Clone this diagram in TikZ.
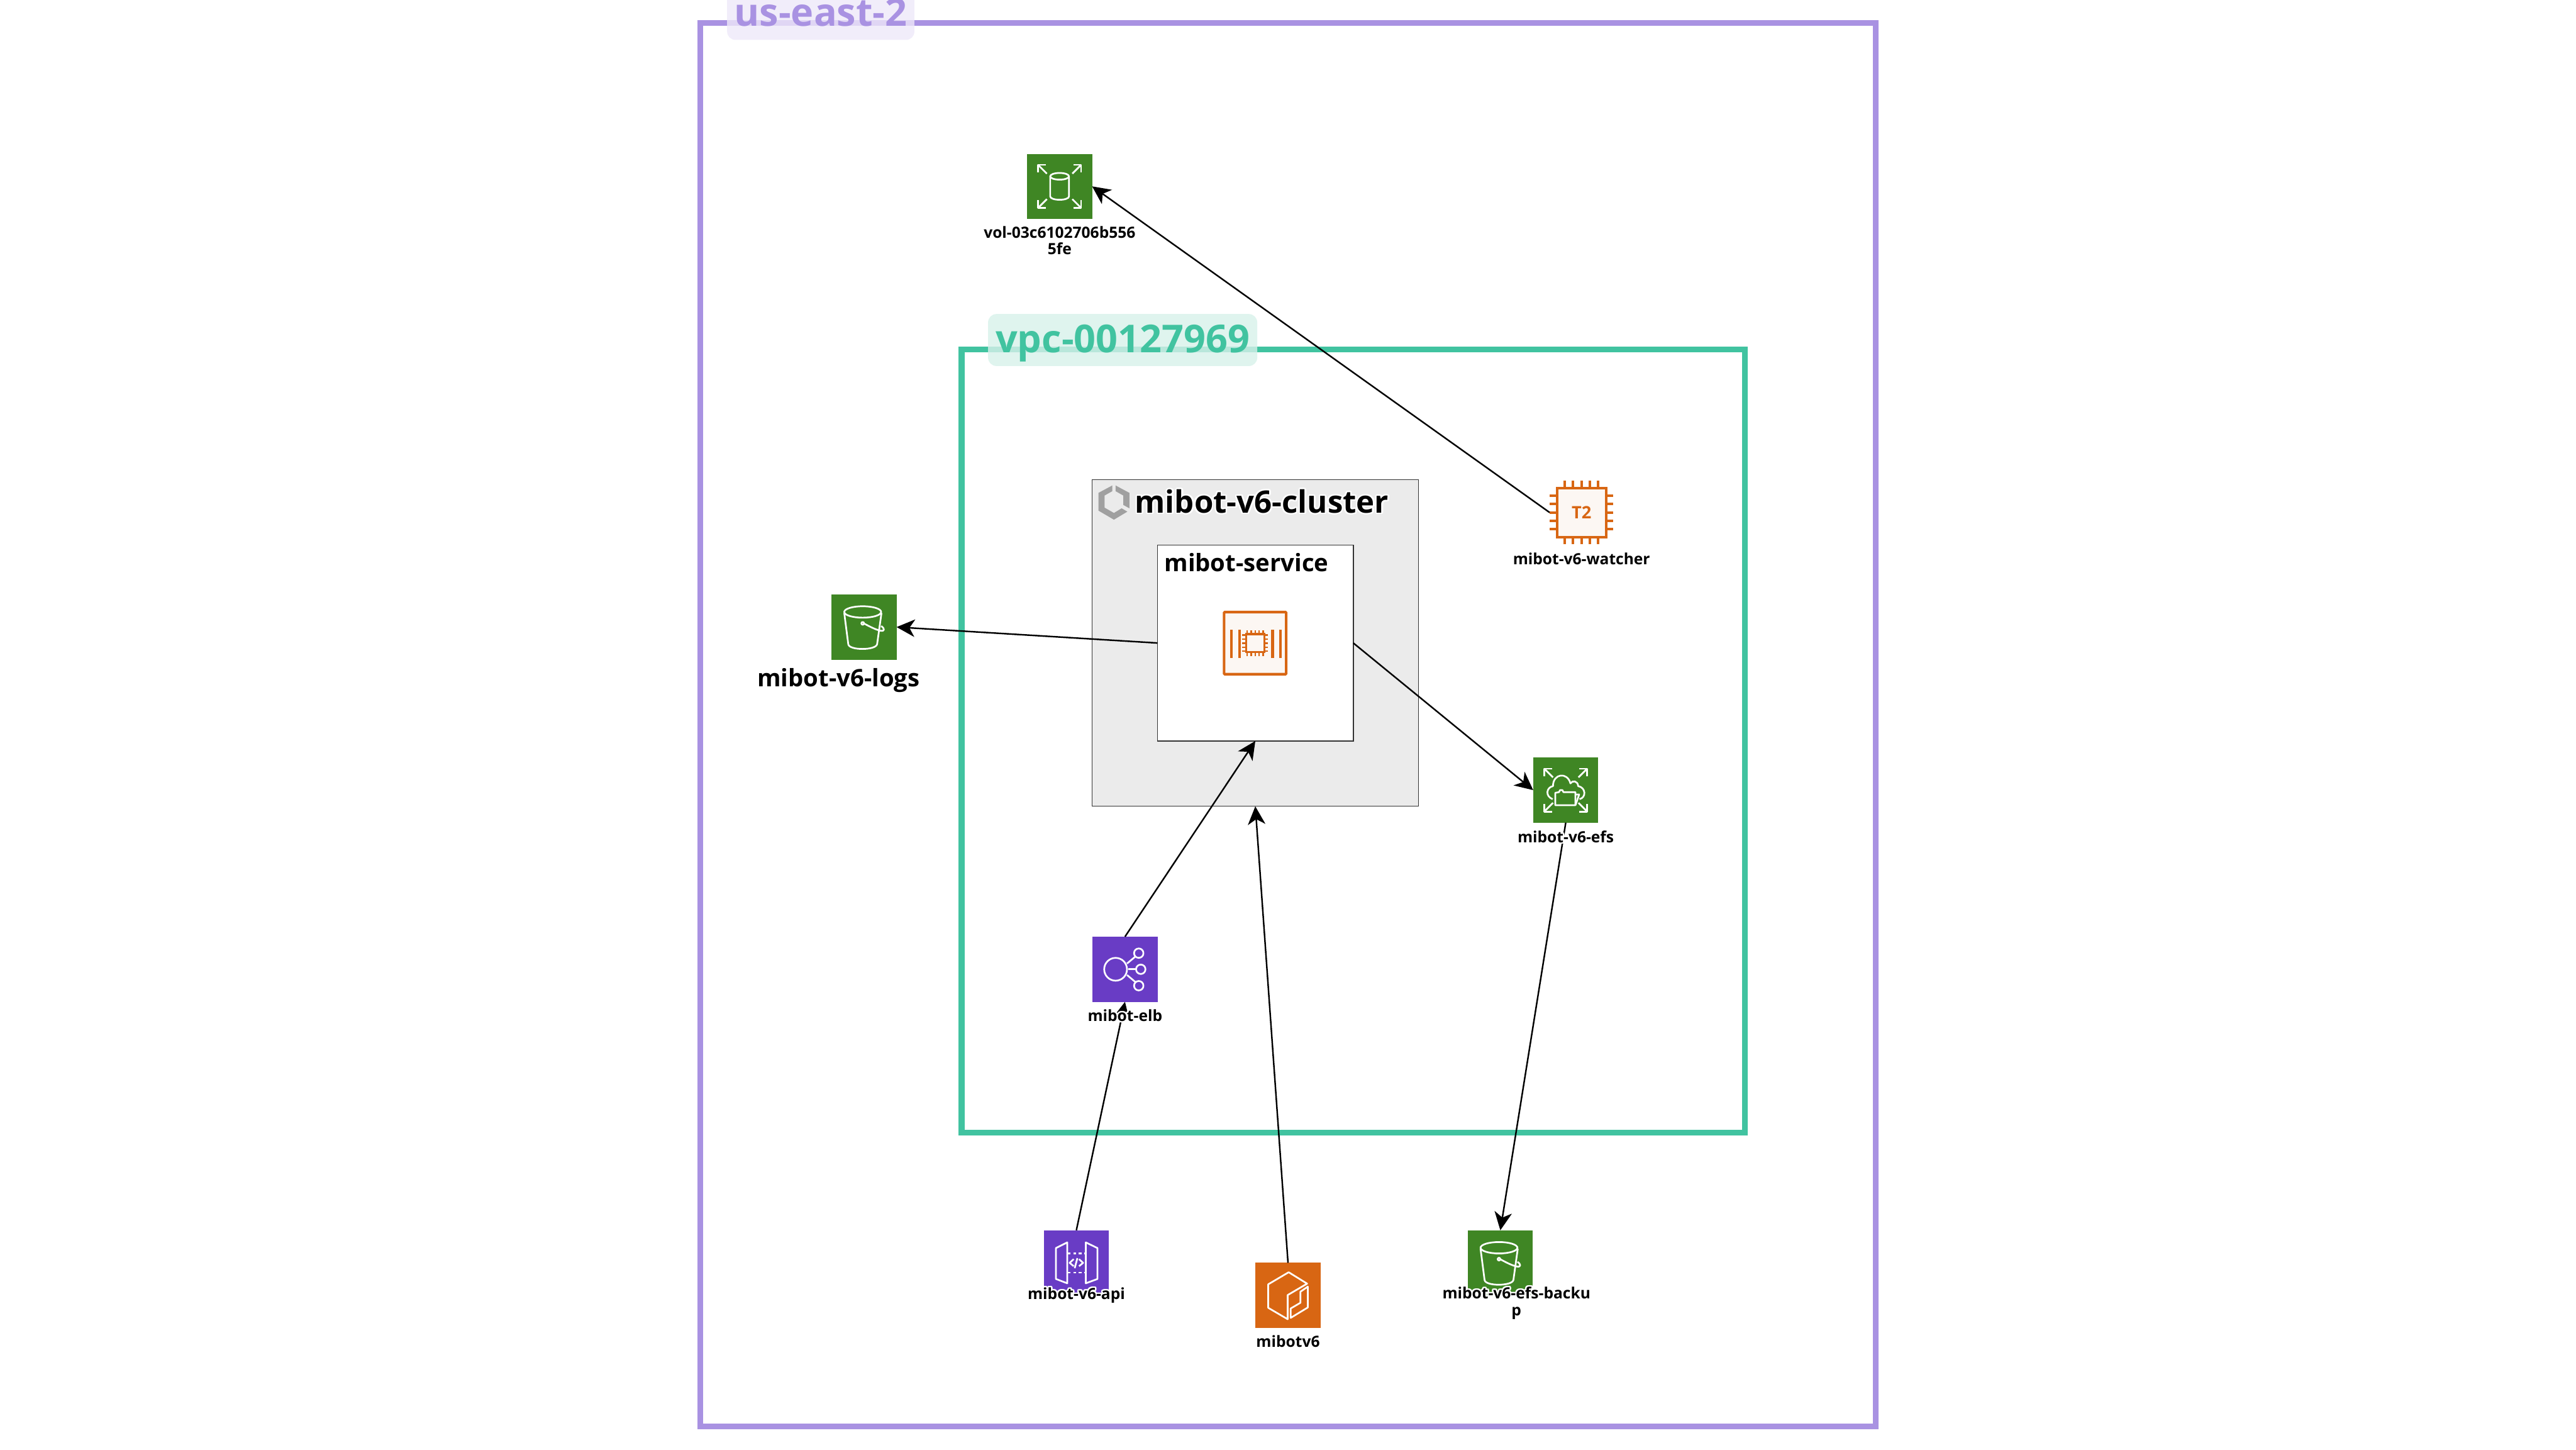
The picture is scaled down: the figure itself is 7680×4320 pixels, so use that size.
\documentclass[tikz,border=0pt]{standalone}
\usepackage{fontspec}
\setmainfont{Open Sans}
\usepackage[copies]{contour}
\contourlength{1.3pt}
\usetikzlibrary{arrows.meta, positioning}
\definecolor{awsgreen}{HTML}{3F8624}
\definecolor{awspurple}{HTML}{693CC5}
\definecolor{awsorange}{HTML}{D86613}
\definecolor{chipfill}{HTML}{FCF7F3}
\definecolor{regioncol}{HTML}{A992E2}
\definecolor{regionfill}{HTML}{EEE8F9}
\definecolor{vpccol}{HTML}{41C3A0}
\definecolor{vpcfill}{HTML}{D7F1EA}
\definecolor{clustergrey}{HTML}{A0A0A0}
\newcommand{\halotext}[1]{\contour{white}{#1}}
\tikzset{
  region/.style={rectangle,draw=#1,line width=4.9pt,inner sep=0pt,outer sep=0pt},
  regionlabel/.style={rectangle,fill=#1,fill opacity=0.8,text opacity=1,rounded corners=0.25cm,inner sep=0pt,anchor=base,
    text height=1.14cm,text depth=0.41cm,font=\fontsize{32.6pt}{36pt}\selectfont\bfseries},
  container/.style={rectangle,draw=black!80,line width=0.7pt,inner sep=0pt,outer sep=0pt},
  icon/.style={rectangle,fill=#1,minimum size=1.94cm,inner sep=0pt,outer sep=0pt},
  glyph/.style={draw=white,line width=1.45pt,line join=round,fill=none},
  chipline/.style={draw=awsorange,line width=2.2pt},
  caption/.style={anchor=base,align=center,inner sep=0pt,font=\fontsize{13.1pt}{14.2pt}\selectfont\bfseries},
  bigcaption/.style={anchor=base,inner sep=0pt,font=\fontsize{20.4pt}{24pt}\selectfont\bfseries},
  line/.style={-{Stealth[length=15.4pt,width=14.8pt,inset=4.5pt]},line width=1.3pt}
}
% arrows pointing out of the corners of an icon
\newcommand{\cornerarrows}{
  \foreach \sx/\sy in {-1/-1,1/-1,-1/1,1/1} {
    \draw[glyph,line cap=butt] (\sx*38,\sy*38) -- (\sx*64,\sy*64);
    \draw[glyph] (\sx*41,\sy*64) -- (\sx*64,\sy*64) -- (\sx*64,\sy*41);
  }
}
\newcommand{\volglyph}[1]{
  \begin{scope}[shift={(#1.center)}]
    \cornerarrows
    \draw[glyph] (0,-30) ellipse[x radius=28,y radius=10];
    \draw[glyph] (-28,-30) -- (-28,30) arc[x radius=28,y radius=10,start angle=180,end angle=0] -- (28,-30);
  \end{scope}
}
\newcommand{\efsglyph}[1]{
  \begin{scope}[shift={(#1.center)}]
    \cornerarrows
    \draw[glyph] (-39,27) .. controls (-62,18) and (-58,-8) .. (-38,-12)
      .. controls (-38,-50) and (5,-55) .. (14,-20)
      .. controls (20,-30) and (36,-28) .. (37,-12)
      .. controls (60,-8) and (62,22) .. (41,27);
    \draw[glyph] (-31,45) -- (-31,8) -- (-20,6) -- (-17,0) -- (-10,0) -- (-7,6) -- (29,6) -- (29,45) -- cycle;
    \draw[glyph] (29,13) -- (40,13) -- (29,45);
  \end{scope}
}
\newcommand{\elbglyph}[1]{
  \begin{scope}[shift={(#1.center)}]
    \draw[glyph] (-28,0) circle[radius=34];
    \draw[glyph] (41,-48) circle[radius=14];
    \draw[glyph] (47,0) circle[radius=14];
    \draw[glyph] (41,49) circle[radius=14];
    \draw[glyph] (6,-17) -- (31,-38);
    \draw[glyph] (9,0) -- (33,0);
    \draw[glyph] (6,17) -- (31,38);
  \end{scope}
}
\newcommand{\apiglyph}[1]{
  \begin{scope}[shift={(#1.center)}]
    \draw[glyph] (-27,-61) -- (-61,-44) -- (-61,48) -- (-27,61) -- cycle;
    \draw[glyph] (28,-61) -- (63,-44) -- (63,48) -- (28,61) -- cycle;
    \draw[glyph,dash pattern=on 2.3pt off 2.3pt] (-25,-28) -- (27,-28);
    \draw[glyph,dash pattern=on 2.3pt off 2.3pt] (-25,29) -- (27,29);
    \draw[glyph] (-8,-11) -- (-20,0) -- (-8,10);
    \draw[glyph] (8,-11) -- (20,0) -- (8,10);
    \draw[glyph] (3,-14) -- (-5,16);
  \end{scope}
}
\newcommand{\packageglyph}[1]{
  \begin{scope}[shift={(#1.center)}]
    \draw[glyph] (2,-69) -- (57,-35) -- (-1,-1) -- (-1,71) -- (-59,37) -- (-59,-33) -- cycle;
    \draw[glyph] (59,-26) -- (37,-11) -- (37,22) -- (8,39) -- (8,67) -- (59,36) -- cycle;
  \end{scope}
}
\newcommand{\bucketglyph}[1]{
  \begin{scope}[shift={(#1.center)}]
    \draw[glyph] (-4,-45) ellipse[x radius=55,y radius=17];
    \draw[glyph] (-59,-42) -- (-47,51) .. controls (-45,70) and (35,70) .. (39,51) -- (52,-42);
    \draw[glyph] (-4,-11) circle[radius=4];
    \draw[glyph] (1,-10) .. controls (20,0) and (35,8) .. (50,11)
      .. controls (62,13) and (62,4) .. (51,-3);
  \end{scope}
}
\newcommand{\taskglyph}[1]{
  \begin{scope}[shift={(#1.center)}]
    \foreach \bx in {-70,-47,52,75} \draw[chipline] (\bx,-40) -- (\bx,45);
    \foreach \pin in {-24,-12,0,12,24} {
      \draw[chipline,line width=1.3pt] (\pin,-38) -- (\pin,-28);
      \draw[chipline,line width=1.3pt] (\pin,38) -- (\pin,28);
      \draw[chipline,line width=1.3pt] (-38,\pin) -- (-28,\pin);
      \draw[chipline,line width=1.3pt] (38,\pin) -- (28,\pin);
    }
    \draw[chipline,line width=1.7pt] (-27,-27) rectangle (27,27);
  \end{scope}
}
\newcommand{\chipglyph}[1]{
  \begin{scope}[shift={(#1.center)}]
    \foreach \pin in {-50,-25,0,25,50} {
      \draw[chipline] (\pin,-95) -- (\pin,-70);
      \draw[chipline] (\pin,70) -- (\pin,95);
      \draw[chipline] (-95,\pin) -- (-70,\pin);
      \draw[chipline] (70,\pin) -- (95,\pin);
    }
    \draw[chipline,fill=chipfill] (-73,-73) rectangle (73,73);
    \node[text=awsorange,inner sep=0pt,font=\fontsize{14.5pt}{16pt}\selectfont\bfseries] at (0,0) {T2};
  \end{scope}
}
\begin{document}
\begin{tikzpicture}[x=0.01cm,y=-0.01cm]
\useasboundingbox (0,0) rectangle (7680,4320);
% regions
\node[region=regioncol,minimum width=35.01cm,minimum height=41.82cm] (useast) at (3840,2160) {};
\node[region=vpccol,minimum width=23.34cm,minimum height=23.34cm] (vpc) at (4034.5,2208.5) {};
\node[regionlabel=regionfill,text=regioncol,minimum width=5.58cm] (useastlabel) at (2447,78) {us-east-2};
\node[regionlabel=vpcfill,text=vpccol,minimum width=8.02cm] (vpclabel) at (3347,1050) {vpc-00127969};
% cluster and service
\node[container,fill=black!8,minimum size=9.73cm] (cluster) at (3742.5,1916.5) {};
\node[container,fill=white,minimum size=5.84cm] (service) at (3742.5,1916.5) {};
\fill[clustergrey] (3316,1447) -- (3275,1469) -- (3275,1522) -- (3321,1549) -- (3361,1525) -- (3344,1515) -- (3321,1529)
  -- (3293,1513) -- (3293,1477) -- (3316,1464) -- cycle;
\fill[clustergrey] (3326,1447) -- (3367,1469) -- (3367,1515) -- (3349,1505) -- (3349,1477) -- (3326,1464) -- cycle;
\node[rectangle,draw=awsorange,line width=2.2pt,fill=chipfill,minimum size=1.85cm,inner sep=0pt,rounded corners=0.02cm] (task) at (3742,1917) {};
\taskglyph{task}
% icons
\node[icon=awsgreen] (vol) at (3159,555.5) {};
\node[icon=awsgreen] (logs) at (2576,1869) {};
\node[icon=awsgreen] (efs) at (4668,2355) {};
\node[icon=awsgreen] (backup) at (4473,3764) {};
\node[icon=awspurple] (elb) at (3354,2889) {};
\node[icon=awspurple] (api) at (3209,3764) {};
\node[icon=awsorange] (mibotv) at (3840,3861) {};
\node[rectangle,minimum size=1.90cm,inner sep=0pt,outer sep=0pt] (watcher) at (4715,1527.5) {};
\volglyph{vol}
\bucketglyph{logs}
\efsglyph{efs}
\bucketglyph{backup}
\elbglyph{elb}
\apiglyph{api}
\packageglyph{mibotv}
\chipglyph{watcher}
% connectors
\draw[line] (watcher.west) -- (vol.east);
\draw[line] (service.west) -- (logs.east);
\draw[line] (service.east) -- (efs.west);
\draw[line] (elb.north) -- (service.south);
\draw[line] (mibotv.north) -- (cluster.south);
\draw[line] (api.north) -- (elb.south);
\draw[line] (efs.south) -- (backup.north);
% captions
\node[bigcaption,font=\fontsize{26.2pt}{28pt}\selectfont\bfseries] (clusterlabel) at (3762,1529) {\halotext{mibot-v6-cluster}};
\node[bigcaption] (servicelabel) at (3716,1703) {\halotext{mibot-service}};
\node[bigcaption] (logslabel) at (2500,2047) {\halotext{mibot-v6-logs}};
\node[caption] (vollabel) at (3159,759) {\halotext{vol-03c6102706b556}\\\halotext{5fe}};
\node[caption] (watcherlabel) at (4715,1683) {\halotext{mibot-v6-watcher}};
\node[caption] (efslabel) at (4668,2511) {\halotext{mibot-v6-efs}};
\node[caption] (elblabel) at (3354,3044) {\halotext{mibot-elb}};
\node[caption] (apilabel) at (3209,3873) {\halotext{mibot-v6-api}};
\node[caption] (mibotvlabel) at (3840,4016) {\halotext{mibotv6}};
\node[caption] (backuplabel) at (4521,3921) {\halotext{mibot-v6-efs-backu}\\\halotext{p}};
\end{tikzpicture}
\end{document}
